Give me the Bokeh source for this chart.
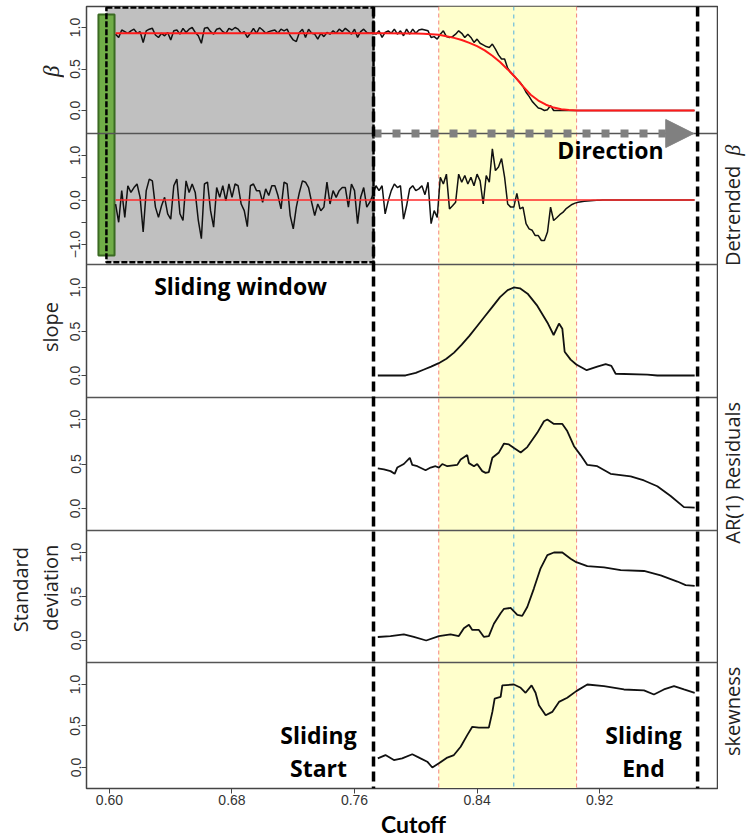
import math
from bokeh.plotting import figure
from bokeh.layouts import row, column
from bokeh.models import (Range1d, FixedTicker, Span, BoxAnnotation, Label,
                          Arrow, NormalHead)
from bokeh.embed import file_html
from bokeh.resources import INLINE

# ---------------- data ----------------
cutoff_start = 0.604          # first cutoff of the sampled beta series
cutoff_step = 0.002

beta = [0.92, 0.88, 0.97, 0.95, 0.93, 0.96, 0.98, 0.93, 0.95, 0.82,
        0.96, 0.98, 0.99, 0.91, 0.88, 0.93, 0.90, 0.94, 0.85, 0.96,
        0.97, 0.92, 0.99, 0.94, 0.98, 1.00, 0.94, 0.90, 0.81, 0.99,
        1.00, 0.95, 0.92, 0.98, 0.99, 0.95, 0.93, 0.99, 0.97, 1.00,
        0.98, 0.93, 0.95, 0.88, 0.93, 0.99, 0.93, 1.00, 0.97, 0.93,
        0.95, 0.96, 0.97, 0.93, 0.98, 0.96, 0.98, 0.90, 0.85, 0.83,
        0.94, 0.98, 0.88, 0.98, 0.93, 0.92, 0.86, 0.93, 0.89, 0.94,
        0.92, 0.96, 0.93, 0.98, 0.95, 0.99, 0.96, 0.92, 0.98, 0.88,
        0.95, 0.98, 0.94, 0.93, 0.94, 0.92, 0.96, 0.88, 0.94, 0.96,
        0.93, 0.98, 0.92, 0.96, 0.90, 0.98, 0.92, 0.98, 0.93, 0.97,
        0.98, 0.97, 0.96, 0.88, 0.89, 0.86, 0.92, 0.96, 0.89, 0.88,
        0.89, 0.92, 0.96, 0.93, 0.88, 0.92, 0.88, 0.82, 0.86, 0.81,
        0.79, 0.77, 0.76, 0.80, 0.74, 0.67, 0.62, 0.62, 0.51, 0.46,
        0.42, 0.38, 0.34, 0.29, 0.22, 0.17, 0.11, 0.07, 0.03, 0.02,
        0.00, 0.01, 0.06, 0.00, 0.00, 0.00, 0.00, 0.00, 0.00, 0.00, 0.00]
beta_tail_x = [0.982]
beta_tail_y = [0.0]

beta_fit_x = [0.604, 0.780, 0.800, 0.805, 0.810, 0.815, 0.820, 0.825, 0.830,
              0.835, 0.840, 0.845, 0.850, 0.855, 0.860, 0.865, 0.870, 0.875,
              0.880, 0.885, 0.890, 0.895, 0.900, 0.905, 0.982]
beta_fit_y = [0.930, 0.930, 0.928, 0.925, 0.920, 0.912, 0.895, 0.875, 0.850,
              0.815, 0.775, 0.725, 0.660, 0.585, 0.495, 0.400, 0.290, 0.190,
              0.120, 0.070, 0.035, 0.015, 0.005, 0.000, 0.000]

detrended = [-0.09, -0.50, 0.21, -0.39, 0.32, 0.17, 0.28, 0.36, 0.06, -0.72,
             0.21, 0.47, 0.43, -0.16, -0.39, -0.13, 0.06, -0.31, -0.43, 0.32,
             0.47, -0.31, -0.46, 0.43, 0.17, 0.36, 0.17, -0.46, -0.87, 0.36,
             0.40, -0.24, -0.61, 0.28, 0.06, 0.32, -0.02, 0.36, 0.06, 0.36,
             0.32, -0.09, -0.24, -0.60, 0.32, 0.36, 0.21, 0.21, -0.05, 0.25,
             0.10, 0.32, 0.32, 0.10, -0.20, 0.40, 0.36, -0.35, -0.65, -0.16,
             0.17, 0.43, 0.40, 0.28, -0.05, -0.35, -0.09, -0.24, -0.16, 0.40,
             -0.09, 0.21, 0.06, 0.21, 0.28, 0.28, -0.16, 0.36, 0.21, -0.53,
             0.06, 0.28, -0.16, -0.05, 0.12, 0.32, 0.21, 0.32, -0.31, -0.02,
             0.21, 0.36, 0.28, 0.32, -0.43, -0.13, 0.25, 0.32, 0.21, 0.25,
             0.32, 0.12, 0.40, -0.53, -0.24, -0.39, 0.51, 0.36, 0.58, -0.20,
             -0.13, -0.05, 0.58, 0.40, 0.55, 0.36, 0.51, 0.32, 0.58, 0.43,
             -0.09, 0.55, 0.40, 1.15, 0.66, 0.74, 0.93, 0.51, -0.09, -0.16,
             -0.16, 0.15, -0.20, -0.16, -0.53, -0.65, -0.68, -0.80, -0.80, -0.91,
             -0.91, -0.72, -0.16, -0.46, -0.40, -0.33, -0.28, -0.20, -0.15, -0.10,
             -0.07, -0.05, -0.04, -0.03, -0.02, -0.015, -0.01, -0.008, -0.005, -0.002,
             0.00]
detrended_tail_x = [0.982]
detrended_tail_y = [0.0]
detrended_fit_x = [0.604, 0.982]
detrended_fit_y = [0.0, 0.0]

slope_x = [0.7752, 0.7933, 0.800, 0.805, 0.810, 0.815, 0.820, 0.825, 0.830,
           0.835, 0.840, 0.845, 0.850, 0.855, 0.860, 0.864, 0.868, 0.873,
           0.879, 0.886, 0.890, 0.8935, 0.8957, 0.8972, 0.9011, 0.9048,
           0.9116, 0.9185, 0.924, 0.9277, 0.9305, 0.9512, 0.9577, 0.9821]
slope_y = [0.0, 0.0, 0.03, 0.065, 0.10, 0.14, 0.19, 0.26, 0.35,
           0.45, 0.56, 0.67, 0.78, 0.89, 0.97, 1.0, 0.99, 0.93,
           0.80, 0.60, 0.46, 0.59, 0.53, 0.27, 0.18, 0.125,
           0.06, 0.10, 0.13, 0.11, 0.02, 0.01, 0.0, 0.0]

ar1_x = [0.7752, 0.7792, 0.7835, 0.7862, 0.7879, 0.7922, 0.7961, 0.7977, 0.8010,
         0.8064, 0.8097, 0.8129, 0.8151, 0.8173, 0.8206, 0.8271, 0.8293, 0.8336,
         0.8347, 0.8380, 0.8401, 0.8434, 0.8456, 0.8477, 0.8500, 0.8543, 0.8576,
         0.8608, 0.8641, 0.8685, 0.8728, 0.8793, 0.8837, 0.8859, 0.8902, 0.8957,
         0.8989, 0.9033, 0.9076, 0.9120, 0.9185, 0.9272, 0.9403, 0.9490, 0.9577,
         0.9664, 0.9751, 0.9821]
ar1_y = [0.45, 0.44, 0.42, 0.39, 0.46, 0.50, 0.57, 0.49, 0.475,
         0.43, 0.46, 0.475, 0.46, 0.50, 0.475, 0.49, 0.55, 0.60,
         0.51, 0.475, 0.50, 0.42, 0.40, 0.41, 0.57, 0.63, 0.73,
         0.72, 0.68, 0.63, 0.69, 0.85, 0.98, 1.0, 0.95, 0.95,
         0.87, 0.70, 0.60, 0.49, 0.475, 0.39, 0.36, 0.315, 0.25,
         0.14, 0.015, 0.01]

sd_x = [0.7752, 0.7835, 0.7922, 0.7987, 0.8068, 0.8151, 0.8227, 0.8281, 0.8314,
        0.8347, 0.8369, 0.8412, 0.8445, 0.8477, 0.8510, 0.8554, 0.8576, 0.8619,
        0.8663, 0.8695, 0.8728, 0.8771, 0.8815, 0.8859, 0.8902, 0.8957, 0.9011,
        0.9048, 0.9120, 0.9229, 0.9338, 0.9490, 0.9599, 0.9708, 0.9762, 0.9821]
sd_y = [0.04, 0.05, 0.07, 0.04, 0.0, 0.05, 0.07, 0.05, 0.14,
        0.18, 0.12, 0.12, 0.04, 0.05, 0.19, 0.31, 0.36, 0.37,
        0.29, 0.28, 0.38, 0.59, 0.82, 0.97, 1.0, 1.0, 0.93,
        0.89, 0.845, 0.83, 0.80, 0.79, 0.74, 0.67, 0.63, 0.62]

skew_x = [0.7752, 0.7802, 0.7857, 0.7911, 0.7977, 0.8031, 0.8075, 0.8108, 0.8151,
          0.8206, 0.8249, 0.8293, 0.8336, 0.8369, 0.8412, 0.8477, 0.8500, 0.8515,
          0.8554, 0.8565, 0.8641, 0.8685, 0.8717, 0.8756, 0.8782, 0.8804, 0.8848,
          0.8891, 0.8935, 0.8989, 0.9048, 0.9120, 0.9229, 0.9359, 0.9490, 0.9555,
          0.9620, 0.9686, 0.9751, 0.9821]
skew_y = [0.11, 0.15, 0.09, 0.11, 0.16, 0.11, 0.07, 0.0, 0.05,
          0.12, 0.15, 0.25, 0.39, 0.49, 0.48, 0.48, 0.67, 0.83,
          0.85, 0.99, 1.0, 0.96, 0.90, 0.99, 0.90, 0.75, 0.63,
          0.67, 0.79, 0.84, 0.92, 1.0, 0.98, 0.94, 0.93, 0.88,
          0.94, 0.98, 0.94, 0.90]

# key cutoffs of the scan
window_left = 0.598
green_left, green_right = 0.5928, 0.6033
slide_start = 0.7724
slide_end = 0.984
transition_lo, transition_hi = 0.815, 0.905
tipping_point = 0.864

x_ticks = [0.60, 0.68, 0.76, 0.84, 0.92]

# ---------------- layout (page pixels) ----------------
W, H = 746, 837
LW = 64                      # left strip holding the panel titles
MAIN_BL, MAIN_BR = 22, 1     # main figure borders around the frame
FL, FT, FW, FH = LW + MAIN_BL, 6, 631, 782
MAIN_BB = 22                 # room for the x tick labels
MAIN_W = MAIN_BL + FW + MAIN_BR
MAIN_H = FT + FH + MAIN_BB
X_LO, X_HI = 0.585, 0.997
edges = [0, 127, 258, 391, 524, 656, 782]  # panel borders, px below frame top
panel_lims = [(-0.277, 1.253), (-1.449, 1.494), (-0.25, 1.261),
              (-0.247, 1.247), (-0.25, 1.25), (-0.253, 1.265)]
std_ticks = [(0.0, "0.0"), (0.5, "0.5"), (1.0, "1.0")]
panel_ticks = [std_ticks,
               [(-1.0, "\u22121.0"), (-0.5, ""), (0.0, "0.0"), (0.5, ""), (1.0, "1.0")],
               std_ticks, std_ticks, std_ticks, std_ticks]

TITLE_FONT = "Open Sans"
up = math.pi / 2

p = figure(width=MAIN_W, height=MAIN_H, x_range=Range1d(X_LO, X_HI),
           y_range=Range1d(0, FH), output_backend="svg", toolbar_location=None,
           title=None, min_border_left=MAIN_BL, min_border_right=MAIN_BR,
           min_border_top=FT, min_border_bottom=MAIN_BB)
p.background_fill_color = "white"
p.border_fill_color = "white"
p.grid.visible = False
p.outline_line_color = "#444444"
p.outline_line_width = 1.5

spans = []
extra = {}
for k, (lo, hi) in enumerate(panel_lims):
    yb, yt = FH - edges[k + 1], FH - edges[k]
    s = (hi - lo) / (yt - yb)
    start = lo - yb * s
    extra[f"p{k}"] = Range1d(start, start + FH * s)
    spans.append((yb, s, lo))
p.extra_y_ranges = extra


def main_y(k, v):
    yb, s, lo = spans[k]
    return yb + (v - lo) / s


def px_x(px):
    return X_LO + (px - FL) / FW * (X_HI - X_LO)


def px_y(py):
    return FH - (py - FT)


# axes
yt_pos, yt_lab = [], {}
for k in range(6):
    for t, lab in panel_ticks[k]:
        m = round(main_y(k, t), 4)
        yt_pos.append(m)
        yt_lab[m] = lab
yax = p.yaxis[0]
yax.ticker = FixedTicker(ticks=yt_pos, minor_ticks=[])
yax.major_label_overrides = yt_lab
yax.major_label_orientation = "vertical"
yax.major_label_text_font = "Liberation Sans"
yax.major_label_text_font_size = "14px"
yax.major_label_text_color = "#333333"
yax.major_label_standoff = 1
yax.axis_line_color = "#444444"
yax.major_tick_line_color = "#444444"
yax.major_tick_out = 5
yax.major_tick_in = 0
yax.minor_tick_line_color = None

xax = p.xaxis[0]
xax.ticker = FixedTicker(ticks=x_ticks, minor_ticks=[])
xax.major_label_overrides = {t: f"{t:.2f}" for t in x_ticks}
xax.major_label_text_font = "Liberation Sans"
xax.major_label_text_font_size = "14px"
xax.major_label_text_color = "#333333"
xax.major_label_standoff = 1
xax.axis_line_color = "#444444"
xax.major_tick_line_color = "#444444"
xax.major_tick_out = 5
xax.major_tick_in = 0
xax.minor_tick_line_color = None

# background regions
p.add_layout(BoxAnnotation(left=transition_lo, right=transition_hi,
                           fill_color="#ffffcc", fill_alpha=1, line_color=None,
                           level="underlay"))
win_top, win_bot = main_y(0, 1.24), main_y(1, -1.40)
p.add_layout(BoxAnnotation(left=window_left, right=slide_start, top=win_top, bottom=win_bot,
                           fill_color="#c0c0c0", fill_alpha=1, line_color=None,
                           level="underlay"))
p.add_layout(BoxAnnotation(left=green_left, right=green_right,
                           top=main_y(0, 1.157), bottom=main_y(1, -1.247),
                           fill_color="#70ad47", fill_alpha=1, line_color="#3a6a22",
                           line_alpha=1, line_width=2, level="underlay"))
p.add_layout(BoxAnnotation(left=window_left, right=slide_start, top=win_top, bottom=win_bot,
                           fill_color=None, fill_alpha=0, line_color="black",
                           line_alpha=1, line_width=2.5, line_dash="6 2",
                           level="underlay"))

for loc in (transition_lo, transition_hi):
    p.add_layout(Span(location=loc, dimension="height", line_color="#f4837d",
                      line_width=1, line_dash="4 3", level="underlay"))
p.add_layout(Span(location=tipping_point, dimension="height", line_color="#4fb0e0",
                  line_width=1, line_dash="4 4", level="underlay"))

# series
beta_x = [round(cutoff_start + cutoff_step * i, 3) for i in range(len(beta))]
det_x = [round(cutoff_start + cutoff_step * i, 3) for i in range(len(detrended))]
p.line(beta_x + beta_tail_x, beta + beta_tail_y, y_range_name="p0",
       line_color="#111111", line_width=1.5)
p.line(beta_fit_x, beta_fit_y, y_range_name="p0", line_color="#ff1a1a", line_width=2)
p.line(det_x + detrended_tail_x, detrended + detrended_tail_y, y_range_name="p1",
       line_color="#111111", line_width=1.5)
p.line(detrended_fit_x, detrended_fit_y, y_range_name="p1", line_color="#ff2a2a",
       line_width=1.3)
p.line(slope_x, slope_y, y_range_name="p2", line_color="#111111", line_width=1.8)
p.line(ar1_x, ar1_y, y_range_name="p3", line_color="#111111", line_width=1.8)
p.line(sd_x, sd_y, y_range_name="p4", line_color="#111111", line_width=1.8)
p.line(skew_x, skew_y, y_range_name="p5", line_color="#111111", line_width=1.8)

# panel separators
for e in edges[1:-1]:
    p.add_layout(Span(location=FH - e, dimension="width", line_color="#555555",
                      line_width=1.5))

# direction arrow along the first panel border
arrow_y = FH - edges[1]
p.add_layout(Arrow(x_start=slide_start, y_start=arrow_y, x_end=0.9815, y_end=arrow_y,
                   line_color="#808080", line_width=8, line_dash="8 11",
                   end=NormalHead(size=28, fill_color="#808080", line_color="#808080")))

# scan start / end markers
for loc in (slide_start, slide_end):
    p.add_layout(Span(location=loc, dimension="height", line_color="black",
                      line_width=3.5, line_dash="10 5"))


def label(fig, t, x, y, size, style="normal", angle=0.0, font=TITLE_FONT,
          color="black"):
    fig.add_layout(Label(x=x, y=y, text=t, text_font=font,
                         text_font_size=f"{size}px", text_font_style=style,
                         text_color=color, text_align="center",
                         text_baseline="middle", angle=angle))


for t, px, py in [("Sliding window", 240, 285), ("Direction", 610, 149),
                  ("Sliding", 318, 734), ("Start", 318, 767),
                  ("Sliding", 643, 734), ("End", 643, 767)]:
    label(p, t, px_x(px), px_y(py), 23, style="bold")


# strips around the main figure carry the panel titles and the x title
def strip(x0, x1, y0, y1):
    f = figure(width=x1 - x0, height=y1 - y0, x_range=Range1d(x0, x1),
               y_range=Range1d(H - y1, H - y0), output_backend="svg",
               toolbar_location=None, title=None, min_border=0,
               min_border_left=0, min_border_right=0,
               min_border_top=0, min_border_bottom=0,
               x_axis_location=None, y_axis_location=None)
    f.grid.visible = False
    f.outline_line_color = None
    f.background_fill_color = "white"
    f.border_fill_color = "white"
    return f


left = strip(0, LW, 0, MAIN_H)
label(left, "\u03b2", 51, H - 67, 23, style="italic", angle=up,
      font="Liberation Serif", color="#222222")
label(left, "slope", 50, H - 332, 20, angle=up, color="#222222")
label(left, "Standard", 20, H - 604, 20, angle=up, color="#222222")
label(left, "deviation", 50, H - 602, 20, angle=up, color="#222222")

right = strip(LW + MAIN_W, W, 0, MAIN_H)
label(right, "Detrended", 732, H - 217, 20, angle=up, color="#222222")
label(right, "\u03b2", 732, H - 149, 22, style="italic", angle=up,
      font="Liberation Serif", color="#222222")
label(right, "AR(1) Residuals", 732, H - 483, 20, angle=up, color="#222222")
label(right, "skewness", 732, H - 730, 20, angle=up, color="#222222")

bottom = strip(0, W, MAIN_H, H)
label(bottom, "Cutoff", 413, H - (MAIN_H + H) / 2, 23, style="bold", font="Lato")

layout = column(row(left, p, right), bottom)
open("out.html", "w").write(file_html(layout, INLINE))
